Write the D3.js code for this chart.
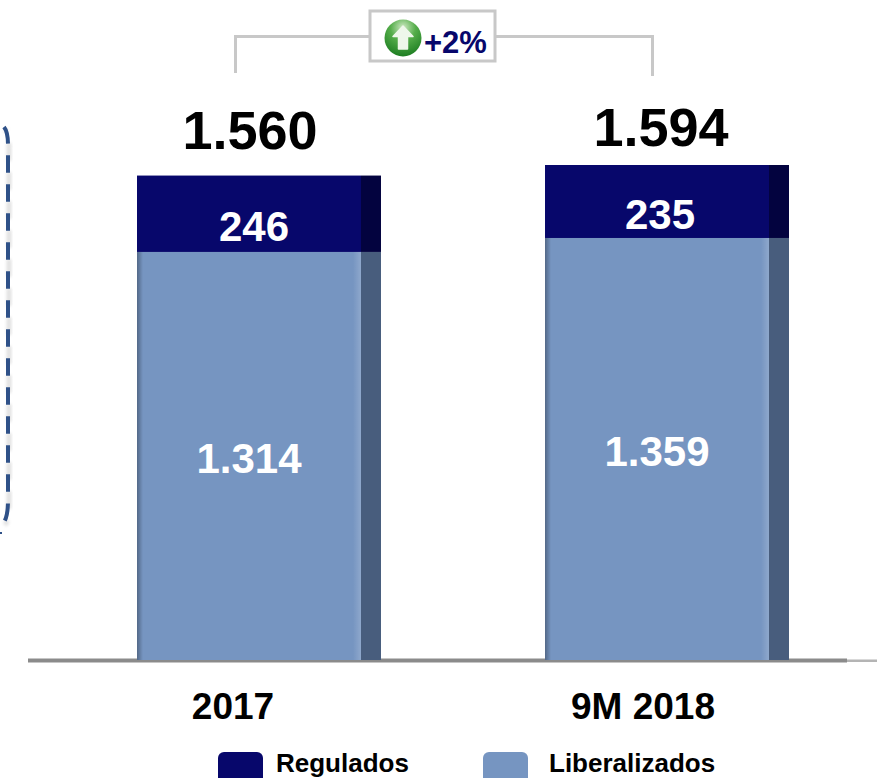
<!DOCTYPE html>
<html><head><meta charset="utf-8">
<script src="https://cdn.jsdelivr.net/npm/d3@7/dist/d3.min.js"></script>
<style>html,body{margin:0;padding:0;background:#fff}svg{display:block}text{font-family:"Liberation Sans",Arial,sans-serif;font-weight:700}</style>
</head><body><div id="c"></div>
<script>
const categories = ["2017", "9M 2018"];
const liberalizados = [1314, 1359];
const regulados = [246, 235];
const totals = ["1.560", "1.594"];
const libLabels = ["1.314", "1.359"];
const regLabels = ["246", "235"];
const seriesNames = ["Regulados", "Liberalizados"];
const growth = "+2%";

const W = 877, H = 778;
const svg = d3.select("#c").append("svg").attr("width", W).attr("height", H);
const defs = svg.append("defs");
const x = d3.scaleBand().domain(categories).range([137, 789]).paddingInner(0.402).paddingOuter(0);
const y = d3.scaleLinear().domain([0, 1594]).range([660, 165]);
const sideW = 20;
const colors = {lib:"#7695c1", libSide:"#485d7d", reg:"#07076b", regSide:"#03033f"};

const glow = defs.append("filter").attr("id","soft").attr("color-interpolation-filters","sRGB").attr("x","-100%").attr("y","-10%").attr("width","300%").attr("height","120%");
glow.append("feGaussianBlur").attr("stdDeviation",1.8);
const soft = defs.append("filter").attr("id","edge").attr("color-interpolation-filters","sRGB").attr("x","-100%").attr("y","-5%").attr("width","300%").attr("height","110%");
soft.append("feGaussianBlur").attr("stdDeviation",0.5);
const g1 = defs.append("radialGradient").attr("id","ball").attr("cx","50%").attr("cy","22%").attr("r","85%");
g1.append("stop").attr("offset","0%").attr("stop-color","#cfeac4");
g1.append("stop").attr("offset","40%").attr("stop-color","#55ad4a");
g1.append("stop").attr("offset","100%").attr("stop-color","#14761b");
const gl = defs.append("linearGradient").attr("id","barEdge");
gl.append("stop").attr("offset","0").attr("stop-color","#000").attr("stop-opacity",.3);
gl.append("stop").attr("offset","1").attr("stop-color","#000").attr("stop-opacity",0);
const gr = defs.append("linearGradient").attr("id","barHi");
gr.append("stop").attr("offset","0").attr("stop-color","#fff").attr("stop-opacity",0);
gr.append("stop").attr("offset","1").attr("stop-color","#fff").attr("stop-opacity",.18);

// dashed rounded panel edge on the left
const panelEdge = "M4,127 Q8,132 8,145 L8,500 Q8,516 4,522";
svg.append("path").attr("d",panelEdge).attr("transform","translate(1,3)").attr("fill","none").attr("stroke","#d8d8d8").attr("stroke-width",5).attr("stroke-dasharray","17.5 11.5").attr("stroke-dashoffset","-14").attr("filter","url(#soft)").attr("opacity",.75);
svg.append("path").attr("d",panelEdge).attr("fill","none").attr("stroke","#2f5188").attr("stroke-width",4).attr("stroke-dasharray","17.5 11.5").attr("filter","url(#edge)");
svg.append("rect").attr("x",0).attr("y",532).attr("width",2).attr("height",2).attr("fill","#2f5188");

// baseline
svg.append("rect").attr("x",28).attr("y",658.5).attr("width",819).attr("height",4).attr("fill","#8b8b8b");
svg.append("rect").attr("x",847).attr("y",659.5).attr("width",30).attr("height",2.5).attr("fill","#b4b4b4");

// bars
const rows = categories.map((c,i)=>({c,i,lib:liberalizados[i],reg:regulados[i]}));
const bars = svg.selectAll("g.bar").data(rows).join("g").attr("class","bar");
const marks = bars.append("g").attr("filter","url(#edge)");
marks.append("rect").attr("x",d=>x(d.c)).attr("y",d=>y(d.lib)).attr("width",x.bandwidth()-sideW).attr("height",d=>y(0)-y(d.lib)).attr("fill",colors.lib);
marks.append("rect").attr("x",d=>x(d.c)+x.bandwidth()-sideW).attr("y",d=>y(d.lib)).attr("width",sideW).attr("height",d=>y(0)-y(d.lib)).attr("fill",colors.libSide);
marks.append("rect").attr("x",d=>x(d.c)).attr("y",d=>y(d.lib+d.reg)).attr("width",x.bandwidth()-sideW).attr("height",d=>y(d.lib)-y(d.lib+d.reg)).attr("fill",colors.reg);
marks.append("rect").attr("x",d=>x(d.c)+x.bandwidth()-sideW).attr("y",d=>y(d.lib+d.reg)).attr("width",sideW).attr("height",d=>y(d.lib)-y(d.lib+d.reg)).attr("fill",colors.regSide);
marks.append("rect").attr("x",d=>x(d.c)).attr("y",d=>y(d.lib)).attr("width",6).attr("height",d=>y(0)-y(d.lib)).attr("fill","url(#barEdge)");
marks.append("rect").attr("x",d=>x(d.c)+x.bandwidth()-sideW-8).attr("y",d=>y(d.lib)).attr("width",8).attr("height",d=>y(0)-y(d.lib)).attr("fill","url(#barHi)");

// labels: small per-bar offsets relative to band centre
const cx = d => x(d.c)+x.bandwidth()/2;
const off = {total:[-9,-6], reg:[-5,-7], lib:[-10,-10], cat:[-26,-24]};
const dy = {total:[-27,-19], reg:[13,14], lib:[221,228]};
const lab = (sel,cls,fs,fill,key,yf,txt) => sel.append("text").attr("class",cls).attr("text-anchor","middle")
  .attr("x",d=>cx(d)+off[key][d.i]).attr("y",yf).attr("font-size",fs).attr("fill",fill).text(txt);
lab(bars,"total",54,"#000","total",d=>y(d.lib+d.reg)+dy.total[d.i],d=>totals[d.i]);
lab(bars,"reg",42,"#fff","reg",d=>(y(d.lib+d.reg)+y(d.lib))/2+dy.reg[d.i]+14,d=>regLabels[d.i]);
lab(bars,"lib",42,"#fff","lib",d=>y(d.lib)+dy.lib[d.i],d=>libLabels[d.i]);
lab(bars,"cat",37,"#000","cat",()=>719,d=>d.c);

// growth bracket
const grey = "#c8c8c8";
svg.append("path").attr("d","M235.5,73 V36.5 H370").attr("fill","none").attr("stroke",grey).attr("stroke-width",3);
svg.append("path").attr("d","M496,36.5 H652.5 V76").attr("fill","none").attr("stroke",grey).attr("stroke-width",3);
svg.append("rect").attr("x",370).attr("y",11).attr("width",125).attr("height",50).attr("fill","#fff").attr("stroke",grey).attr("stroke-width",3);
svg.append("circle").attr("cx",403).attr("cy",38).attr("r",18.5).attr("fill","url(#ball)");
svg.append("path").attr("d","M403,26 L413,36.5 H407.5 V49 H398.5 V36.5 H393 Z").attr("fill","#eef7ea").attr("stroke","#eef7ea").attr("stroke-width",1.5).attr("stroke-linejoin","round");
svg.append("text").attr("x",424).attr("y",53).attr("font-size",31).attr("fill","#07076b").text(growth);

// legend
const leg = svg.selectAll("g.leg").data(seriesNames).join("g").attr("class","leg");
const legX = d3.scalePoint().domain(seriesNames).range([218,483]);
leg.append("rect").attr("x",d=>legX(d)).attr("y",752).attr("width",45).attr("height",34).attr("rx",6)
  .attr("fill",(d,i)=>i?colors.lib:colors.reg);
leg.append("text").attr("x",d=>legX(d)+(d==="Regulados"?58:66)).attr("y",772).attr("font-size",26).attr("fill","#000").text(d=>d);
</script></body></html>
